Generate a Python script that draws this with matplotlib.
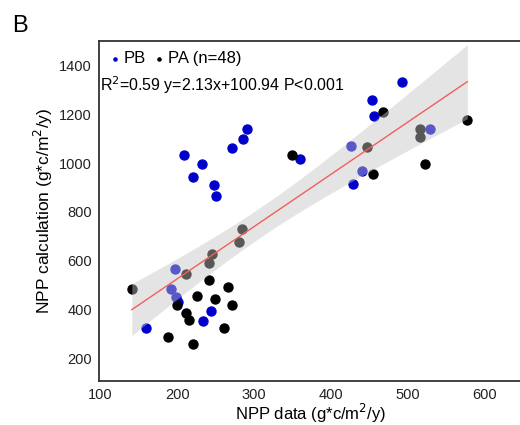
import numpy as np
import matplotlib
matplotlib.use('Agg')
import matplotlib.pyplot as plt

plt.rcParams['font.family'] = ['Liberation Sans', 'DejaVu Sans']

# PB points (blue)
pb_x = [493, 454, 456, 529, 291, 286, 271, 209, 232, 221, 248, 251, 360, 426, 441, 429,
        197, 192, 198, 201, 244, 234, 159]
pb_y = [1331, 1257, 1193, 1139, 1138, 1097, 1060, 1034, 995, 942, 910, 864, 1016, 1068, 969, 913,
        567, 484, 454, 434, 397, 356, 327]

# PA points (black)
pa_x = [468, 578, 516, 516, 350, 447, 455, 523,
        284, 281, 246, 242, 212, 141, 242, 266, 226, 250, 200, 272, 212, 216, 261, 188, 221]
pa_y = [1210, 1176, 1138, 1107, 1034, 1064, 956, 997,
        729, 678, 630, 592, 547, 487, 524, 493, 458, 446, 422, 420, 389, 359, 327, 290, 261]

slope = 2.13
intercept = 100.94

fig = plt.figure(figsize=(5.2, 4.25), dpi=100)
ax = fig.add_axes([0.19, 0.1035, 0.815, 0.80])

ax.scatter(pb_x, pb_y, s=42, color='#0000cc', zorder=2, label='PB')
ax.scatter(pa_x, pa_y, s=42, color='black', zorder=2, label='PA (n=48)')

# regression line + 95% confidence band
x_all = np.array(pb_x + pa_x, dtype=float)
y_all = np.array(pb_y + pa_y, dtype=float)
n = len(x_all)
resid = y_all - (slope * x_all + intercept)
s_err = np.sqrt(np.sum(resid ** 2) / (n - 2))
xs = np.linspace(x_all.min(), x_all.max(), 200)
ys = slope * xs + intercept
se = s_err * np.sqrt(1 / n + (xs - x_all.mean()) ** 2 / np.sum((x_all - x_all.mean()) ** 2))
ci = 2.01 * se
ax.fill_between(xs, ys - ci, ys + ci, color='#c4c4c4', alpha=0.45, lw=0, zorder=3)
ax.plot(xs, ys, color='#f0605a', lw=1, zorder=4)

ax.set_xlim(98, 650)
ax.set_ylim(110, 1498)
ax.set_xticks([100, 200, 300, 400, 500, 600])
ax.set_yticks([200, 400, 600, 800, 1000, 1200, 1400])
ax.tick_params(length=0, labelsize=10.5, pad=5, colors='#222222')
ax.set_xlabel('NPP data (g*c/m$^2$/y)', fontsize=12, labelpad=0)
ax.set_ylabel('NPP calculation (g*c/m$^2$/y)', fontsize=12.5, labelpad=3)
for sp in ax.spines.values():
    sp.set_linewidth(1.3)
    sp.set_color('#333333')

ax.legend(loc='upper left', ncol=2, frameon=False, fontsize=12, markerscale=0.35,
          handletextpad=0.1, columnspacing=0.4, handlelength=0.8,
          borderaxespad=0.3, borderpad=0.3)
ax.text(0.003, 0.87, 'R$^2$=0.59 y=2.13x+100.94 P<0.001', transform=ax.transAxes,
        fontsize=11.5, va='center', ha='left')

fig.text(0.023, 0.94, 'B', fontsize=17, ha='left', va='center')

fig.savefig('out.png', dpi=100)
